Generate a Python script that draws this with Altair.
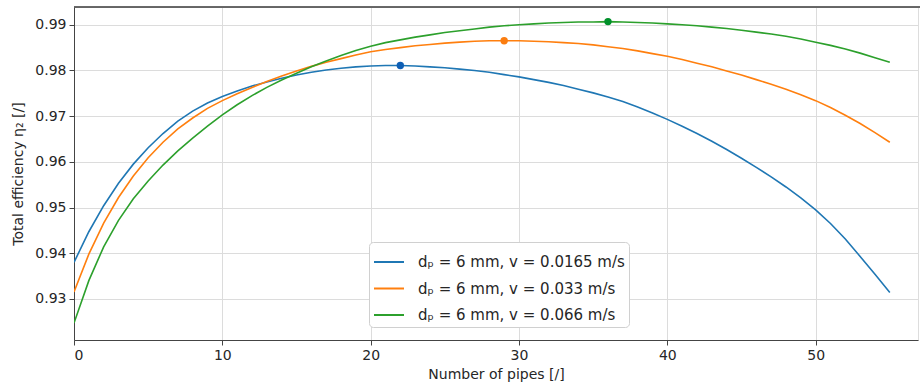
import altair as alt
import pandas as pd

# ---- data ----
n_pipes = list(range(0, 56))

eff_v0165 = [0.9380, 0.9447, 0.9504, 0.9553, 0.9595, 0.9631, 0.9662, 0.9689, 0.9711, 0.9729,
             0.9743, 0.9755, 0.9766, 0.9775, 0.9783, 0.9790, 0.9796, 0.9801, 0.9805, 0.9808,
             0.9810, 0.9811, 0.9811, 0.9810, 0.9808, 0.9806, 0.9803, 0.9800, 0.9796, 0.9791,
             0.9786, 0.9780, 0.9774, 0.9767, 0.9759, 0.9751, 0.9742, 0.9732, 0.9720, 0.9707,
             0.9693, 0.9678, 0.9662, 0.9645, 0.9627, 0.9608, 0.9588, 0.9567, 0.9545, 0.9521,
             0.9495, 0.9465, 0.9431, 0.9393, 0.9354, 0.9314]

eff_v033 = [0.9315, 0.9398, 0.9466, 0.9522, 0.9569, 0.9609, 0.9643, 0.9672, 0.9696, 0.9717,
            0.9734, 0.9749, 0.9763, 0.9776, 0.9788, 0.9799, 0.9809, 0.9818, 0.9826, 0.9834,
            0.9841, 0.9846, 0.9850, 0.9854, 0.9857, 0.9860, 0.9862, 0.9864, 0.9865, 0.9865,
            0.9865, 0.9864, 0.9863, 0.9861, 0.9859, 0.9856, 0.9852, 0.9848, 0.9843, 0.9837,
            0.9831, 0.9824, 0.9816, 0.9808, 0.9799, 0.9790, 0.9780, 0.9770, 0.9759, 0.9747,
            0.9734, 0.9719, 0.9702, 0.9684, 0.9664, 0.9643]

eff_v066 = [0.9247, 0.9340, 0.9414, 0.9472, 0.9519, 0.9558, 0.9593, 0.9624, 0.9652, 0.9678,
            0.9703, 0.9725, 0.9745, 0.9763, 0.9779, 0.9794, 0.9808, 0.9821, 0.9833, 0.9844,
            0.9853, 0.9861, 0.9867, 0.9873, 0.9878, 0.9883, 0.9887, 0.9891, 0.9895, 0.9898,
            0.9900, 0.9902, 0.9904, 0.9905, 0.9906, 0.9906, 0.9907, 0.9906, 0.9905, 0.9904,
            0.9902, 0.9900, 0.9898, 0.9895, 0.9892, 0.9888, 0.9884, 0.9880, 0.9875, 0.9869,
            0.9862, 0.9855, 0.9847, 0.9838, 0.9828, 0.9818]

series_labels = ["dₚ = 6 mm, v = 0.0165 m/s",
                 "dₚ = 6 mm, v =  0.033 m/s",
                 "dₚ = 6 mm, v = 0.066 m/s"]
line_colors = ["#1f77b4", "#ff7f0e", "#2ca02c"]

peak_x = [22, 29, 36]
peak_y = [0.9811, 0.9865, 0.9907]
marker_colors = ["#0e5fb5", "#fb7d10", "#00902a"]

y_ticks = [0.93, 0.94, 0.95, 0.96, 0.97, 0.98, 0.99]
x_ticks = [0, 10, 20, 30, 40, 50]

# ---- tables ----
rows = []
for lab, vals in zip(series_labels, [eff_v0165, eff_v033, eff_v066]):
    for xv, yv in zip(n_pipes, vals):
        rows.append({"n": xv, "eff": yv, "series": lab, "order": xv})
df = pd.DataFrame(rows)
peaks = pd.DataFrame({"n": peak_x, "eff": peak_y, "series": series_labels})

W, H = 844, 333
FONT = "DejaVu Sans"

xscale = alt.Scale(domain=[0, 56.9], nice=False, zero=False)
yscale = alt.Scale(domain=[0.9210, 0.9939], nice=False, zero=False)

xaxis = alt.Axis(values=x_ticks, title="Number of pipes [/]", format="d",
                 grid=True, gridColor="#dcdcdc", gridWidth=1,
                 domainColor="#444444", tickColor="#444444", tickSize=5,
                 labelFontSize=14, titleFontSize=14, labelPadding=3, titlePadding=5,
                 titleFontWeight="normal", labelColor="#262626", titleColor="#262626",
                 labelFont=FONT, titleFont=FONT)
yaxis = alt.Axis(values=y_ticks, title="Total efficiency η₂ [/]", format=".2f",
                 grid=True, gridColor="#dcdcdc", gridWidth=1,
                 domainColor="#444444", tickColor="#444444", tickSize=5,
                 labelFontSize=14, titleFontSize=14, labelPadding=3, titlePadding=9,
                 titleFontWeight="normal", labelColor="#262626", titleColor="#262626",
                 labelFont=FONT, titleFont=FONT)

lines = alt.Chart(df).mark_line(strokeWidth=1.6, clip=True).encode(
    x=alt.X("n:Q", scale=xscale, axis=xaxis),
    y=alt.Y("eff:Q", scale=yscale, axis=yaxis),
    order="order:Q",
    color=alt.Color("series:N",
                    scale=alt.Scale(domain=series_labels, range=line_colors),
                    legend=alt.Legend(title=None, orient="none", legendX=295, legendY=235,
                                      symbolType="stroke", symbolSize=900, symbolStrokeWidth=2,
                                      labelFontSize=15, labelFont=FONT, labelColor="#262626",
                                      rowPadding=2.5, padding=4, labelOffset=13,
                                      fillColor="white", strokeColor="#d0d0d0",
                                      cornerRadius=4, labelLimit=400)),
)

points = alt.Chart(peaks).mark_circle(size=55, opacity=1).encode(
    x=alt.X("n:Q", scale=xscale),
    y=alt.Y("eff:Q", scale=yscale),
    fill=alt.Fill("series:N", scale=alt.Scale(domain=series_labels, range=marker_colors),
                  legend=None),
)

top_border = alt.Chart(peaks).mark_rule(color="#555555", strokeWidth=1).encode(
    x=alt.value(0), x2=alt.value(W + 10), y=alt.value(0)
)

chart = (
    alt.layer(lines, points, top_border)
    .properties(width=W, height=H,
                autosize=alt.AutoSizeParams(type="none"),
                padding={"left": 74, "top": 7, "right": 2, "bottom": 46})
    .configure_view(stroke=None)
    .configure(background="white")
)

chart.save("out.html", embed_options={"renderer": "svg", "actions": False})
